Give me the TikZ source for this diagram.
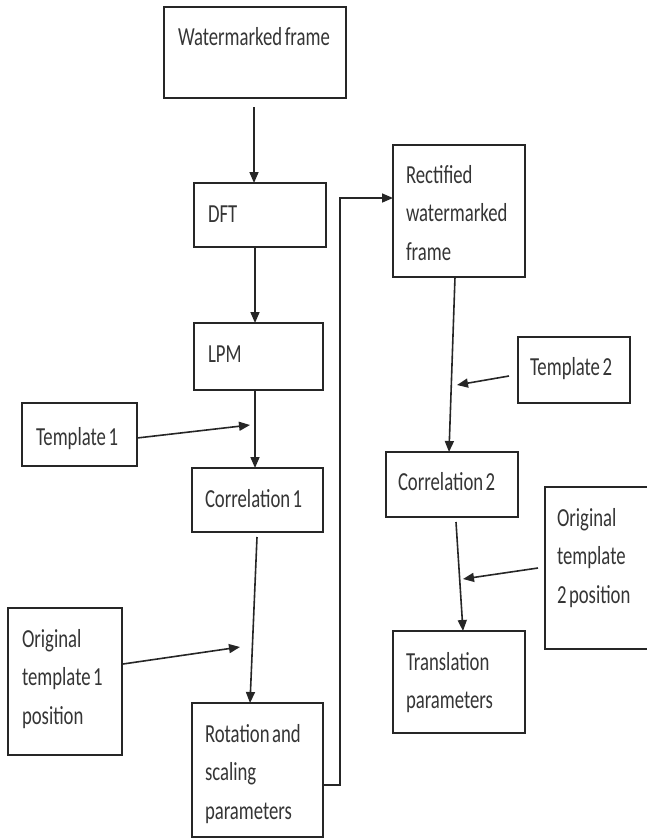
\documentclass[tikz,border=0pt]{standalone}
\usepackage{fontspec}
\setmainfont[FakeStretch=0.72,WordSpace=0.6]{Carlito}
\usetikzlibrary{arrows.meta}
\definecolor{ink}{HTML}{262626}
\definecolor{txtc}{HTML}{353535}
\begin{document}
\begin{tikzpicture}[x=1pt,y=-1pt,
  box/.style={draw=ink, line width=1.8pt, fill=white, inner sep=0pt, outer sep=0pt, anchor=north west},
  lbl/.style={inner sep=0pt, outer sep=0pt, anchor=base west, text=txtc,
    font=\fontsize{26}{38.8}\selectfont},
  arr/.style={draw=ink, line width=1.6pt, -{Triangle[length=11pt,width=9pt]}}]
\useasboundingbox (0,0) rectangle (647,839);

% boxes (placed by their top-left corners)
\node[box, minimum width=182pt, minimum height=91pt]  (wm)   at (164,7)   {};
\node[box, minimum width=132pt, minimum height=64pt]  (dft)  at (194,183) {};
\node[box, minimum width=129pt, minimum height=67pt]  (lpm)  at (194,323) {};
\node[box, minimum width=115pt, minimum height=63pt]  (tpl1) at (22,403)  {};
\node[box, minimum width=131pt, minimum height=64pt]  (cor1) at (192,468) {};
\node[box, minimum width=114pt, minimum height=147pt] (org1) at (8,608)   {};
\node[box, minimum width=131pt, minimum height=134pt] (rot)  at (192,703) {};
\node[box, minimum width=132pt, minimum height=132pt] (rect) at (393,145) {};
\node[box, minimum width=112pt, minimum height=66pt]  (tpl2) at (518,337) {};
\node[box, minimum width=132pt, minimum height=65pt]  (cor2) at (386,452) {};
\node[box, minimum width=115pt, minimum height=162pt] (org2) at (545,487) {};
\node[box, minimum width=132pt, minimum height=102pt] (trn)  at (393,631) {};

% box captions (anchored at the baseline of their first line)
\node[lbl] (wm-t)   at (178,45)  {Watermarked frame};
\node[lbl] (dft-t)  at (208,222) {DFT};
\node[lbl] (lpm-t)  at (208,362) {LPM};
\node[lbl] (tpl1-t) at (36,445)  {Template 1};
\node[lbl] (cor1-t) at (205,507) {Correlation 1};
\node[lbl] (org1-t) at (22,647)  {\begin{tabular}[t]{@{}l@{}}Original\\template 1\\position\end{tabular}};
\node[lbl] (rot-t)  at (205,742) {\begin{tabular}[t]{@{}l@{}}Rotation and\\scaling\\parameters\end{tabular}};
\node[lbl] (rect-t) at (406,183) {\begin{tabular}[t]{@{}l@{}}Rectified\\watermarked\\frame\end{tabular}};
\node[lbl] (tpl2-t) at (530,375) {Template 2};
\node[lbl] (cor2-t) at (398,490) {Correlation 2};
\node[lbl] (org2-t) at (557,526) {\begin{tabular}[t]{@{}l@{}}Original\\template\\2 position\end{tabular}};
\node[lbl] (trn-t)  at (406,670) {\begin{tabular}[t]{@{}l@{}}Translation\\parameters\end{tabular}};

% points where side inputs meet the main flow
\coordinate (j1) at (250,425);
\coordinate (j2) at (240,647);
\coordinate (j3) at (457,385);
\coordinate (j4) at (463,579);

% left column flow
\draw[arr] ([xshift=-1pt,yshift=-9pt]wm.south) -- ([xshift=-1pt]wm.south |- dft.north);
\draw[arr] ([xshift=-5pt]dft.south) -- ([xshift=-5pt]dft.south |- lpm.north);
\draw[arr] ([xshift=-3.5pt]lpm.south) -- ([xshift=-3.5pt]lpm.south |- cor1.north);
\draw[arr] ([xshift=-0.5pt,yshift=-5pt]cor1.south) -- ([xshift=-7.5pt]rot.north);
\draw[arr] ([yshift=-3.5pt]tpl1.east) -- (j1);
\draw[arr] ([xshift=1pt,yshift=17.5pt]org1.east) -- (j2);

% feedback into the right column
\draw[arr] ([yshift=-15pt]rot.east) -| ++(17,0) |- ([yshift=13pt]rect.west);

% right column flow
\draw[arr] ([xshift=-4pt]rect.south) -- ([xshift=-3pt]cor2.north);
\draw[arr] ([xshift=4pt,yshift=-5pt]cor2.south) -- ([xshift=4pt]trn.north);
\draw[arr] ([xshift=-9pt,yshift=-6pt]tpl2.west) -- (j3);
\draw[arr] ([xshift=-7pt]org2.west) -- (j4);
\end{tikzpicture}
\end{document}
